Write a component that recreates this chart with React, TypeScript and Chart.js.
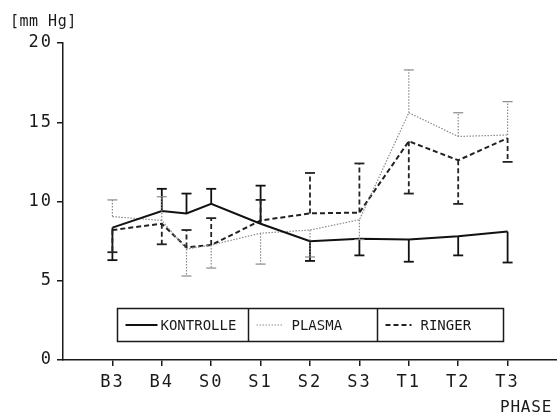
import React, { useEffect, useRef } from "react";
import { Chart, registerables } from "chart.js";

Chart.register(...registerables);

const tickLabels = ["B3", "B4", "S0", "S1", "S2", "S3", "T1", "T2", "T3"];
const pointPhase = [0, 1, 1.5, 2, 3, 4, 5, 6, 7, 8];

const kontrolle = [8.35, 9.4, 9.25, 9.85, 8.6, 7.5, 7.65, 7.6, 7.8, 8.1];
const kontrolleErr = [6.3, 10.8, 10.5, 10.8, 11.0, 6.25, 6.6, 6.2, 6.6, 6.15];

const plasma = [9.05, 8.8, 7.0, 7.25, 8.0, 8.2, 8.85, 15.6, 14.1, 14.2];
const plasmaErr = [10.1, 10.3, 5.3, 5.8, 6.05, 6.5, 7.6, 18.3, 15.6, 16.3];

const ringer = [8.2, 8.6, 7.1, 7.25, 8.8, 9.25, 9.3, 13.8, 12.6, 14.0];
const ringerErr = [6.8, 7.3, 8.2, 8.95, 10.1, 11.8, 12.4, 10.5, 9.85, 12.5];

const yTicks = [0, 5, 10, 15, 20];
const legendLabels = ["KONTROLLE", "PLASMA", "RINGER"];

const FONT = "'DejaVu Sans Mono', 'Liberation Mono', monospace";
const INK = "#1a1a1a";

function toPoints(vals: number[]) {
  return vals.map((v, i) => ({ x: pointPhase[i], y: v }));
}

const errorBarPlugin = {
  id: "errorBars",
  beforeDraw(chart: any) {
    (chart.ctx as any).letterSpacing = "2px";
  },
  beforeDatasetsDraw(chart: any) {
    (chart.ctx as any).letterSpacing = "0px";
  },
  afterDatasetsDraw(chart: any) {
    const ctx = chart.ctx;
    const xs = chart.scales.x;
    const ys = chart.scales.y;
    chart.data.datasets.forEach((ds: any) => {
      const ends: number[] = ds.errorEnds;
      ctx.save();
      ctx.strokeStyle = ds.borderColor;
      ctx.lineWidth = ds.errWidth;
      ds.data.forEach((p: any, j: number) => {
        const px = xs.getPixelForValue(p.x);
        const py1 = ys.getPixelForValue(p.y);
        const py2 = ys.getPixelForValue(ends[j]);
        ctx.setLineDash(ds.borderDash || []);
        ctx.beginPath();
        ctx.moveTo(px, py1);
        ctx.lineTo(px, py2);
        ctx.stroke();
        ctx.setLineDash([]);
        ctx.beginPath();
        ctx.moveTo(px - 5, py2);
        ctx.lineTo(px + 5, py2);
        ctx.stroke();
      });
      ctx.restore();
    });
  },
  afterDraw(chart: any) {
    const ctx = chart.ctx;
    ctx.save();
    ctx.fillStyle = INK;
    ctx.strokeStyle = INK;
    ctx.textBaseline = "middle";
    ctx.textAlign = "left";
    // unit label
    ctx.font = `15px ${FONT}`;
    (ctx as any).letterSpacing = "0.5px";
    ctx.fillText("[mm Hg]", 10, 22);
    // x axis title
    ctx.font = `16px ${FONT}`;
    (ctx as any).letterSpacing = "0.8px";
    ctx.fillText("PHASE", 500, 408);
    (ctx as any).letterSpacing = "0px";
    // legend box
    const lx = 117.5, ly = 308.5, lw = 386, lh = 33;
    const dividers = [248.5, 377.5];
    ctx.lineWidth = 1.5;
    ctx.strokeRect(lx, ly, lw, lh);
    dividers.forEach((d) => {
      ctx.beginPath();
      ctx.moveTo(d, ly);
      ctx.lineTo(d, ly + lh);
      ctx.stroke();
    });
    const starts = [lx, dividers[0], dividers[1]];
    const cy = ly + lh / 2;
    chart.data.datasets.forEach((ds: any, i: number) => {
      const sx = starts[i] + 8;
      ctx.save();
      ctx.strokeStyle = ds.borderColor;
      ctx.lineWidth = ds.borderWidth;
      ctx.setLineDash(ds.borderDash || []);
      ctx.beginPath();
      ctx.moveTo(sx, cy);
      ctx.lineTo(sx + (i === 0 ? 32 : 26), cy);
      ctx.stroke();
      ctx.restore();
      ctx.font = `14px ${FONT}`;
      ctx.fillStyle = INK;
      ctx.fillText(legendLabels[i], sx + 35, cy + 1);
    });
    ctx.restore();
  },
};

export default function App() {
  const ref = useRef<HTMLCanvasElement | null>(null);
  useEffect(() => {
    if (!ref.current) return;
    const chart = new Chart(ref.current, {
      type: "line",
      data: {
        datasets: [
          {
            label: legendLabels[0],
            data: toPoints(kontrolle),
            borderColor: "#111111",
            borderWidth: 2,
            borderDash: [],
            pointRadius: 0,
            tension: 0,
            errorEnds: kontrolleErr,
            errWidth: 1.8,
          } as any,
          {
            label: legendLabels[1],
            data: toPoints(plasma),
            borderColor: "#8a8a8a",
            borderWidth: 1.2,
            borderDash: [1.5, 1.5],
            pointRadius: 0,
            tension: 0,
            errorEnds: plasmaErr,
            errWidth: 1.2,
          } as any,
          {
            label: legendLabels[2],
            data: toPoints(ringer),
            borderColor: "#222222",
            borderWidth: 2,
            borderDash: [5, 3],
            pointRadius: 0,
            tension: 0,
            errorEnds: ringerErr,
            errWidth: 1.8,
          } as any,
        ],
      },
      options: {
        animation: false,
        responsive: false,
        maintainAspectRatio: false,
        layout: { padding: { top: 43, right: 0, left: 0, bottom: 0 } },
        plugins: { legend: { display: false }, tooltip: { enabled: false } },
        scales: {
          x: {
            type: "linear",
            min: -1,
            max: 9,
            afterBuildTicks: (s: any) => {
              s.ticks = tickLabels.map((_, i) => ({ value: i }));
            },
            afterFit: (s: any) => {
              s.height = 58;
            },
            ticks: {
              callback: (v: any) => tickLabels[v] ?? "",
              font: { family: FONT, size: 17 },
              color: INK,
              padding: 6,
              maxRotation: 0,
              autoSkip: false,
            },
            grid: { drawOnChartArea: false, drawTicks: true, tickLength: 6, color: INK, lineWidth: 1.5 },
            border: { display: true, color: INK, width: 1.5 },
          },
          y: {
            min: 0,
            max: 20,
            afterBuildTicks: (s: any) => {
              s.ticks = yTicks.map((v) => ({ value: v }));
            },
            afterFit: (s: any) => {
              s.width = 63;
            },
            ticks: {
              font: { family: FONT, size: 17 },
              color: INK,
              padding: 4,
            },
            grid: { drawOnChartArea: false, drawTicks: true, tickLength: 6, color: INK, lineWidth: 1.5 },
            border: { display: true, color: INK, width: 1.5 },
          },
        },
      } as any,
      plugins: [errorBarPlugin],
    });
    return () => chart.destroy();
  }, []);
  return (
    <div style={{ position: "absolute", left: 0, top: 0, width: 557, height: 418, background: "#fff" }}>
      <canvas ref={ref} width={557} height={418} style={{ width: 557, height: 418 }} />
    </div>
  );
}
